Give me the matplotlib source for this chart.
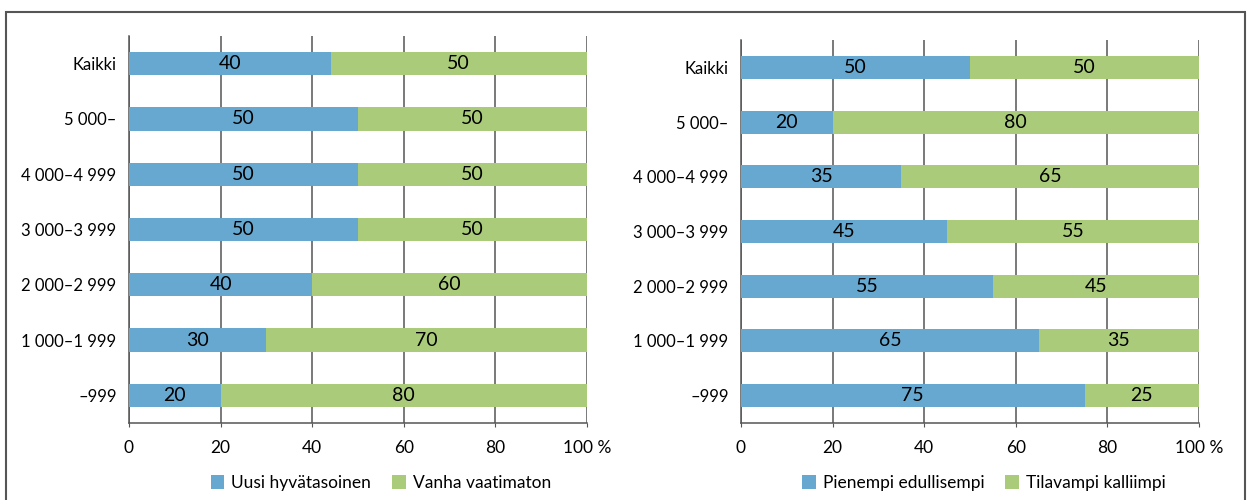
import numpy as np
import matplotlib.pyplot as plt
from matplotlib.patches import Rectangle

plt.rcParams['font.family'] = ['Lato', 'DejaVu Sans']

# -----------------------------
# Data
# -----------------------------
categories = ["Kaikki", "5 000–", "4 000–4 999", "3 000–3 999",
              "2 000–2 999", "1 000–1 999", "–999"]

left_blue = [44, 50, 50, 50, 40, 30, 20]
left_green = [56, 50, 50, 50, 60, 70, 80]
left_blue_lbl = ["40", "50", "50", "50", "40", "30", "20"]
left_green_lbl = ["50", "50", "50", "50", "60", "70", "80"]
left_names = ["Uusi hyvätasoinen", "Vanha vaatimaton"]

right_blue = [50, 20, 35, 45, 55, 65, 75]
right_green = [50, 80, 65, 55, 45, 35, 25]
right_blue_lbl = ["50", "20", "35", "45", "55", "65", "75"]
right_green_lbl = ["50", "80", "65", "55", "45", "35", "25"]
right_names = ["Pienempi edullisempi", "Tilavampi kalliimpi"]

xticks = [0, 20, 40, 60, 80, 100]
xtick_labels = ["0", "20", "40", "60", "80", "100 %"]

BLUE = "#67A8D0"
GREEN = "#AACB7A"
GRID = "#555555"

fig = plt.figure(figsize=(12.49, 5.0), dpi=100)

# frame around the whole figure (open at the bottom)
fig.patches.append(Rectangle((6 / 1249, -0.05), (1245 - 6) / 1249, 1.05 - 12 / 500,
                             transform=fig.transFigure, fill=False,
                             edgecolor="#555555", lw=1.5))

ax1 = fig.add_axes([129 / 1249, 1 - 423 / 500, 458 / 1249, (423 - 36) / 500])
ax2 = fig.add_axes([741 / 1249, 1 - 423 / 500, 458 / 1249, (423 - 40) / 500])


def draw(ax, blue, green, blue_lbl, green_lbl, names, legend_x, legend_y):
    y = np.arange(len(categories))
    ax.barh(y, blue, height=0.42, color=BLUE, label=names[0], zorder=3)
    ax.barh(y, green, left=blue, height=0.42, color=GREEN, label=names[1], zorder=3)
    for i in range(len(y)):
        ax.text(blue[i] / 2, y[i], blue_lbl[i], ha="center", va="center",
                fontsize=14, color="black", zorder=4)
        ax.text(blue[i] + green[i] / 2, y[i], green_lbl[i], ha="center", va="center",
                fontsize=14, color="black", zorder=4)
    ax.set_ylim(len(categories) - 0.5, -0.5)
    ax.set_xlim(0, 100)
    ax.set_yticks(y)
    ax.set_yticklabels(categories, fontsize=12)
    ax.set_xticks(xticks)
    ax.set_xticklabels(xtick_labels, fontsize=12.5)
    ax.tick_params(axis="y", length=0, pad=9)
    ax.tick_params(axis="x", length=3, color=GRID, pad=9)
    ax.xaxis.grid(True, color=GRID, lw=1.1, zorder=1)
    ax.set_axisbelow(True)
    for s in ["top", "right"]:
        ax.spines[s].set_visible(False)
    for s in ["left", "bottom"]:
        ax.spines[s].set_color(GRID)
        ax.spines[s].set_linewidth(1.1)
    ax.legend(loc="center", bbox_to_anchor=(legend_x, legend_y), ncol=2, frameon=False,
              fontsize=12.5, handlelength=0.8, handleheight=0.8, handletextpad=0.4,
              columnspacing=1.2)


draw(ax1, left_blue, left_green, left_blue_lbl, left_green_lbl, left_names, 0.55, -0.155)
draw(ax2, right_blue, right_green, right_blue_lbl, right_green_lbl, right_names, 0.53, -0.157)

plt.savefig("out.png", dpi=100)
